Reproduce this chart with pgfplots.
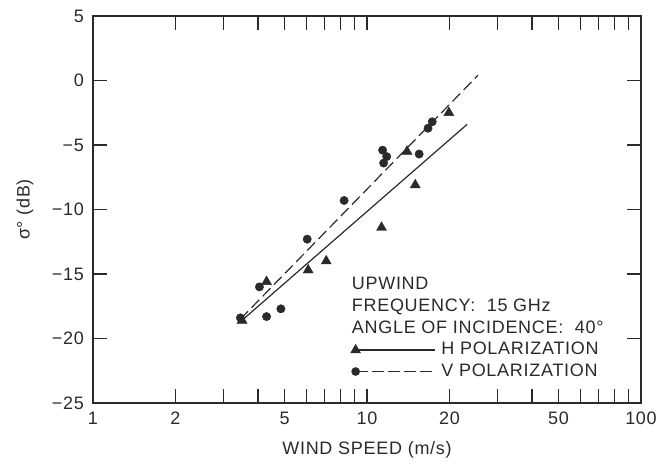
\documentclass[border=0pt]{standalone}
\usepackage{fontspec}
\setmainfont{Liberation Sans}[LetterSpace=4]
\usepackage{pgfplots}
\pgfplotsset{compat=1.18}

\definecolor{ink}{HTML}{2A2A2A}

\begin{document}
\fontsize{18bp}{21bp}\selectfont
\begin{tikzpicture}
% fix the page to the reference proportions (axis box at the origin)
\path[use as bounding box] (-93bp,-63bp) rectangle (565bp,403bp);
\begin{axis}[
    scale only axis,
    width=548bp, height=387bp,
    xmode=log, log basis x=10,
    xmin=1, xmax=100, ymin=-25, ymax=5,
    xtick={1,2,5,10,20,50,100},
    xticklabels={1,2,5,10,20,50,100},
    minor xtick={3,4,6,7,8,9,30,40,60,70,80,90},
    ytick={-25,-20,-15,-10,-5,0,5},
    yticklabels={−25,−20,−15,−10,−5,0,5},
    major tick length=14bp, minor tick length=14bp,
    tick style={line width=1.1bp, color=ink},
    axis line style={line width=1.1bp, color=ink},
    tick label style={color=ink},
    yticklabel style={xshift=-3bp},
    xticklabel style={yshift=-3bp},
    xlabel={WIND SPEED (m/s)},
    ylabel={σ° (dB)},
    xlabel style={at={(axis description cs:0.5,-0.121)}, anchor=center, color=ink},
    ylabel style={at={(axis description cs:-0.124,0.5)}, anchor=center, color=ink},
    clip=false,
    legend cell align=left,
    legend style={
        at={(axis description cs:0.471,0.16)}, anchor=north west,
        draw=none, fill=none, inner sep=0pt, row sep=4bp,
        nodes={inner sep=1bp, text height=12.5bp, text depth=3bp, text=ink},
    },
    legend image code/.code={
        \draw[#1,mark=none] (0bp,0bp) -- (79bp,0bp);
        \draw[#1,only marks] plot coordinates {(0bp,0bp)};
        \path (84bp,0bp);
    },
]

% H polarization
\addplot[only marks, mark=triangle*, mark size=5.8bp, color=ink, forget plot]
    coordinates {(3.5,-18.6) (4.3,-15.6) (6.1,-14.7) (7.1,-14.0)
                 (11.3,-11.4) (14.0,-5.5) (15.0,-8.1) (19.9,-2.5)};
\addplot[line width=1.2bp, color=ink, forget plot]
    coordinates {(3.45,-18.7) (23.2,-3.4)};

% V polarization
\addplot[only marks, mark=*, mark size=4.2bp, color=ink, forget plot]
    coordinates {(3.45,-18.4) (4.05,-16.0) (4.3,-18.3) (4.85,-17.7)
                 (6.05,-12.3) (8.25,-9.3) (11.4,-5.4) (11.8,-5.9)
                 (11.5,-6.4) (15.5,-5.7) (16.7,-3.7) (17.3,-3.2)};
\addplot[line width=1.2bp, color=ink, dash pattern=on 11bp off 5bp, forget plot]
    coordinates {(3.45,-18.5) (25.4,0.4)};

\addlegendimage{line width=1.2bp, color=ink, mark=triangle*, mark size=5bp}
\addlegendentry{H POLARIZATION}
\addlegendimage{line width=1.4bp, color=ink, dash pattern=on 12bp off 4bp,
    mark=*, mark size=3.6bp, mark options={solid}}
\addlegendentry{V POLARIZATION}

\node[anchor=north west, align=left, inner sep=0pt, text=ink,
      font=\fontsize{18bp}{22bp}\selectfont]
    at (axis description cs:0.472,0.327)
    {UPWIND\\FREQUENCY:\ \ 15 GHz\\ANGLE OF INCIDENCE:\ \ 40°};
\end{axis}
\end{tikzpicture}
\end{document}
